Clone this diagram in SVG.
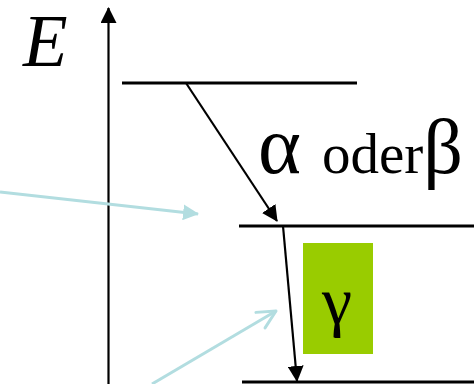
<svg xmlns="http://www.w3.org/2000/svg" width="474" height="384" viewBox="0 0 474 384">
  <defs>
    <style>
      .lvl { stroke: #000; stroke-width: 3; fill: none; }
      .blk { stroke: #000; stroke-width: 2.2; fill: none; }
      .cyan { stroke: #b2dde0; stroke-width: 3; fill: none; }
      .serif { font-family: "Liberation Serif", "Times New Roman", serif; fill: #000; }
    </style>
    <marker id="ahBlack" viewBox="0 0 16 16" refX="15" refY="8" markerWidth="16" markerHeight="16" markerUnits="userSpaceOnUse" orient="auto">
      <path d="M0,0 L16,8 L0,16 z" fill="#000"/>
    </marker>
    <marker id="ahCyan" viewBox="0 0 16 16" refX="15" refY="8" markerWidth="16" markerHeight="16" markerUnits="userSpaceOnUse" orient="auto">
      <path d="M0,0 L16,8 L0,16 z" fill="#b2dde0"/>
    </marker>
    <marker id="ahCyanOpen" viewBox="0 0 22 20" refX="20" refY="10" markerWidth="22" markerHeight="20" markerUnits="userSpaceOnUse" orient="auto" overflow="visible">
      <path d="M2,1 L20,10 L2,19" fill="none" stroke="#b2dde0" stroke-width="3" stroke-linecap="round" stroke-linejoin="round"/>
    </marker>
  </defs>
  <rect width="474" height="384" fill="#fff"/>

  <g id="axis">
    <line class="blk" x1="108.5" y1="384" x2="108.5" y2="8" stroke-width="2.5" marker-end="url(#ahBlack)"/>
    <text class="serif" x="23" y="66" font-size="73" font-style="italic">E</text>
  </g>

  <g id="level-top">
    <line class="lvl" x1="122" y1="83" x2="357" y2="83"/>
  </g>
  <g id="level-middle">
    <line class="lvl" x1="239" y1="226" x2="474" y2="226" stroke-width="2.5"/>
  </g>
  <g id="level-bottom">
    <line class="lvl" x1="242" y1="382" x2="474" y2="382"/>
  </g>

  <g id="label-alpha-beta">
    <text class="serif" x="258" y="173"><tspan font-size="82">α</tspan><tspan x="322" font-size="57">oder</tspan><tspan font-size="78">β</tspan></text>
  </g>

  <g id="gamma">
    <rect x="303" y="243" width="70" height="111" fill="#99cc00"/>
    <text class="serif" x="337" y="324" font-size="68" text-anchor="middle">γ</text>
  </g>

  <g id="connectors">
    <line class="blk" x1="186" y1="83" x2="277" y2="221" marker-end="url(#ahBlack)"/>
    <line class="blk" x1="283" y1="226" x2="297" y2="381" marker-end="url(#ahBlack)"/>
    <line class="cyan" x1="0" y1="192" x2="198" y2="214" marker-end="url(#ahCyan)"/>
    <line class="cyan" x1="152" y1="384" x2="276" y2="311" marker-end="url(#ahCyanOpen)"/>
  </g>
</svg>
